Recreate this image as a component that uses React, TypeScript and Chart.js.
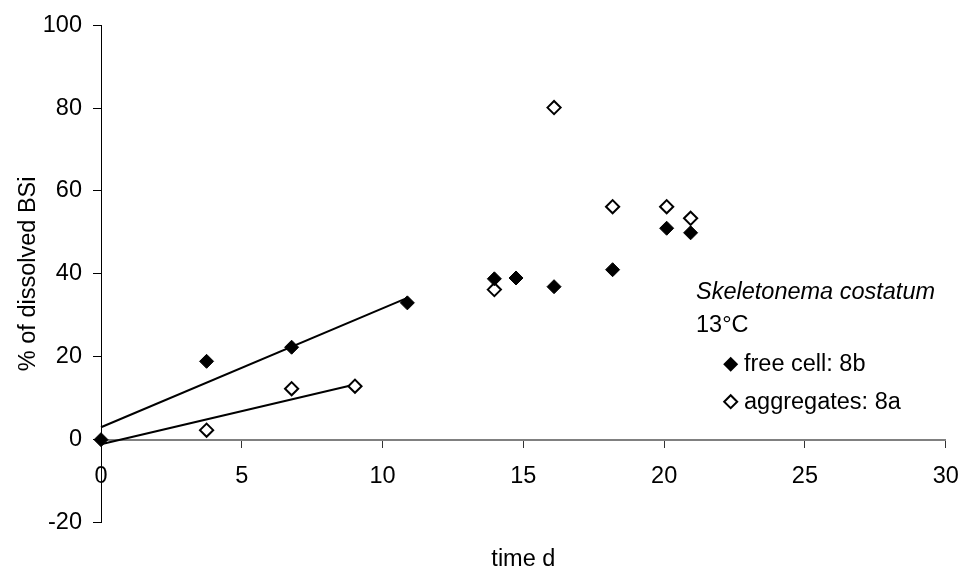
import React, { useEffect, useRef } from "react";
import { Chart, registerables } from "chart.js";

Chart.register(...registerables);

// Free cells (filled diamonds)
const freeDays = [0, 3.75, 6.77, 10.88, 13.97, 14.74, 16.09, 18.17, 20.09, 20.94];
const freeDissolved = [0, 18.9, 22.3, 33.0, 38.8, 39.0, 36.9, 41.0, 51.0, 49.9];

// Aggregates (open diamonds)
const aggDays = [3.75, 6.77, 9.02, 13.97, 16.09, 18.17, 20.09, 20.94];
const aggDissolved = [2.3, 12.3, 12.9, 36.2, 80.1, 56.2, 56.2, 53.4];

// Linear fits
const freeFitDays = [0, 10.88];
const freeFitValues = [3.0, 34.2];
const aggFitDays = [0, 9.02];
const aggFitValues = [-1.1, 13.3];

const xTicks = [0, 5, 10, 15, 20, 25, 30];
const yTicks = [-20, 0, 20, 40, 60, 80, 100];

const xTitle = "time d";
const yTitle = "% of dissolved BSi";
const speciesName = "Skeletonema costatum";
const temperature = "13°C";
const freeLabel = "free cell: 8b";
const aggLabel = "aggregates: 8a";

const FONT = "'Liberation Sans', Arial, sans-serif";
const FS = 23.5;

const pts = (xs: number[], ys: number[]) => xs.map((x, i) => ({ x, y: ys[i] }));

export default function App() {
  const ref = useRef<HTMLCanvasElement | null>(null);
  useEffect(() => {
    if (!ref.current) return;
    const textPlugin = {
      id: "annotText",
      afterDraw(chart: any) {
        const ctx = chart.ctx;
        const area = chart.chartArea;
        ctx.save();
        ctx.fillStyle = "#000";
        ctx.font = `${FS}px ${FONT}`;
        ctx.textBaseline = "alphabetic";
        // y title
        ctx.save();
        ctx.translate(35, (area.top + area.bottom) / 2);
        ctx.rotate(-Math.PI / 2);
        ctx.textAlign = "center";
        ctx.fillText(yTitle, 0, 0);
        ctx.restore();
        // x title
        ctx.textAlign = "center";
        ctx.fillText(xTitle, (area.left + area.right) / 2, 566);
        // annotation
        ctx.textAlign = "left";
        ctx.font = `italic ${FS}px ${FONT}`;
        ctx.fillText(speciesName, 696, 298.5);
        ctx.font = `${FS}px ${FONT}`;
        ctx.fillText(temperature, 696, 331.5);
        // legend
        const mx = 730.7;
        const diamond = (cx: number, cy: number, r: number) => {
          ctx.beginPath();
          ctx.moveTo(cx - r, cy);
          ctx.lineTo(cx, cy - r);
          ctx.lineTo(cx + r, cy);
          ctx.lineTo(cx, cy + r);
          ctx.closePath();
        };
        diamond(mx, 364.3, 7.5);
        ctx.fill();
        diamond(mx, 401.7, 6.5);
        ctx.fillStyle = "#fff";
        ctx.fill();
        ctx.lineWidth = 2;
        ctx.strokeStyle = "#000";
        ctx.stroke();
        ctx.fillStyle = "#000";
        ctx.fillText(freeLabel, 744, 370.5);
        ctx.fillText(aggLabel, 744, 408.5);
        ctx.restore();
      },
    };

    const chart = new Chart(ref.current, {
      type: "scatter",
      data: {
        datasets: [
          {
            label: freeLabel,
            data: pts(freeDays, freeDissolved),
            pointStyle: "rectRot",
            pointRadius: 7,
            pointBackgroundColor: "#000",
            pointBorderColor: "#000",
            pointBorderWidth: 1,
            showLine: false,
            clip: false,
            order: 0,
          },
          {
            label: aggLabel,
            data: pts(aggDays, aggDissolved),
            pointStyle: "rectRot",
            pointRadius: 6.6,
            pointBackgroundColor: "#fff",
            pointBorderColor: "#000",
            pointBorderWidth: 2,
            showLine: false,
            clip: false,
            order: 1,
          },
          {
            label: "fit free",
            data: pts(freeFitDays, freeFitValues),
            showLine: true,
            borderColor: "#000",
            borderWidth: 2,
            pointRadius: 0,
            clip: false,
            order: 2,
          },
          {
            label: "fit agg",
            data: pts(aggFitDays, aggFitValues),
            showLine: true,
            borderColor: "#000",
            borderWidth: 2,
            pointRadius: 0,
            clip: false,
            order: 3,
          },
        ],
      },
      options: {
        animation: false,
        responsive: true,
        maintainAspectRatio: false,
        layout: { padding: { left: 0, top: 24, right: 17.3, bottom: 49.4 } },
        plugins: {
          legend: { display: false },
          tooltip: { enabled: false },
        },
        scales: {
          x: {
            type: "linear",
            position: { y: 0 } as any,
            min: 0,
            max: 30,
            afterBuildTicks: (s: any) => {
              s.ticks = xTicks.map((v) => ({ value: v }));
            },
            afterFit: (s: any) => {
              s.paddingLeft = 0;
              s.paddingRight = 0;
            },
            ticks: {
              color: "#000",
              font: { family: FONT, size: FS },
              padding: 16,
              maxRotation: 0,
            },
            grid: {
              drawOnChartArea: false,
              drawTicks: true,
              tickLength: 7,
              color: "#333",
            },
            border: { display: true, color: "#808080", width: 2 },
          },
          y: {
            type: "linear",
            position: "left",
            min: -20,
            max: 100,
            afterBuildTicks: (s: any) => {
              s.ticks = yTicks.map((v) => ({ value: v }));
            },
            afterFit: (s: any) => {
              s.width = 101;
            },
            ticks: {
              color: "#000",
              font: { family: FONT, size: FS },
              padding: 11,
            },
            grid: {
              drawOnChartArea: false,
              drawTicks: true,
              tickLength: 8,
              color: "#000",
            },
            border: { display: true, color: "#000", width: 1 },
          },
        },
      },
      plugins: [textPlugin],
    });
    return () => chart.destroy();
  }, []);

  return (
    <div style={{ position: "fixed", left: 0, top: 0, width: 963, height: 572, background: "#fff" }}>
      <canvas ref={ref} />
    </div>
  );
}
